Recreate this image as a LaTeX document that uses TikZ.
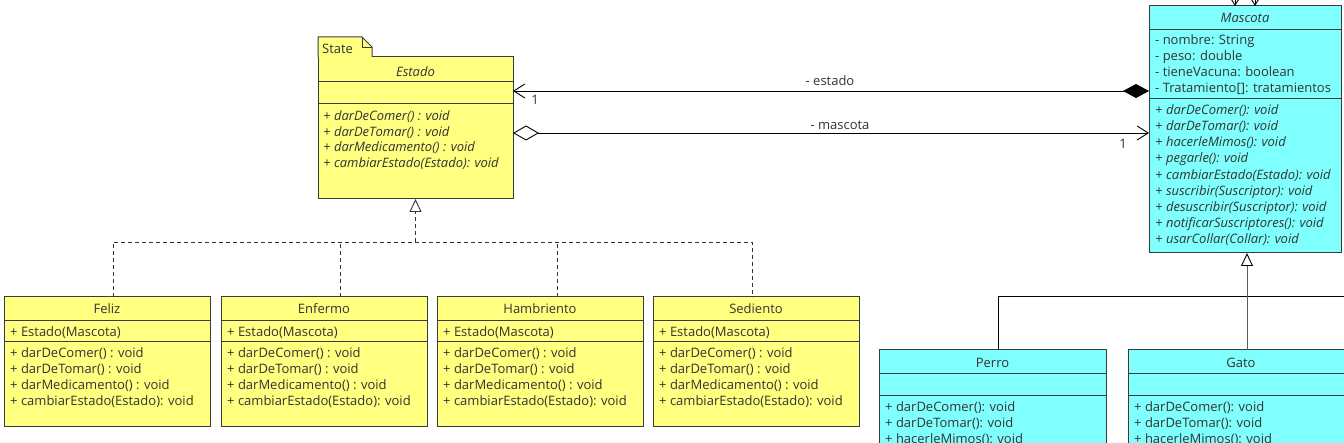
\documentclass[tikz,border=0pt]{standalone}
\usepackage{fontspec}
\setmainfont{Open Sans}
\usetikzlibrary{arrows.meta,calc}
\definecolor{ylw}{HTML}{FFFF80}
\definecolor{cyn}{HTML}{80FFFF}
\definecolor{ink}{HTML}{333333}
\definecolor{edge}{HTML}{3A3A3A}
\tikzset{openbarb/.tip={Straight Barb[length=11pt,width=14pt,line width=0.9pt]}}
\begin{document}
\begin{tikzpicture}[x=1pt,y=-1pt,
  ybox/.style={draw=edge,fill=ylw,line width=1pt,anchor=north west,inner sep=0pt,outer sep=0pt},
  cbox/.style={draw=edge,fill=cyn,line width=1pt,anchor=north west,inner sep=0pt,outer sep=0pt},
  div/.style={draw=edge,line width=1pt},
  txt/.style={anchor=west,inner sep=0pt,text=ink,font=\fontsize{13}{15}\selectfont,text height=9.5pt,text depth=0pt},
  itxt/.style={txt,font=\fontsize{13}{15}\selectfont\itshape},
  ttl/.style={txt,anchor=center},
  ittl/.style={itxt,anchor=center},
  lbl/.style={txt,anchor=center},
  conn/.style={draw=black,line width=0.9pt},
  realz/.style={draw=ink,line width=0.9pt,dash pattern=on 4pt off 3pt},
]
\useasboundingbox (0,0) rectangle (1344,443);

% ---------- Estado (State) ----------
\node[ybox,minimum width=195pt,minimum height=142pt] (estado) at (318,57) {};
\draw[ybox] (318,57) -- (318,37) -- (362,37) -- (372,47) -- (372,57);
\draw[div,line width=0.8pt] (362,37) -- (362,47) -- (372,47);
\node[txt] (estado-tag) at (322,48.5) {State};
\node[ittl] (estado-t) at (415.5,72) {Estado};
\draw[div] (318,82) -- (513,82);
\draw[div] (318,104) -- (513,104);
\node[itxt] (estado-m1) at (323,116) {+ darDeComer() : void};
\node[itxt] (estado-m2) at (323,131.5) {+ darDeTomar() : void};
\node[itxt] (estado-m3) at (323,147) {+ darMedicamento() : void};
\node[itxt] (estado-m4) at (323,162.5) {+ cambiarEstado(Estado): void};

% ---------- concrete states ----------
\newcommand\stclass[3]{%
  \node[ybox,minimum width=206pt,minimum height=129pt] (#1) at (#2,297) {};
  \node[ttl] (#1-t) at ($(#1.north)+(0,12)$) {#3};
  \draw[div] ($(#1.north west)+(0,24)$) -- ($(#1.north east)+(0,24)$);
  \node[txt] (#1-c) at ($(#1.north west)+(6,35)$) {+ Estado(Mascota)};
  \draw[div] ($(#1.north west)+(0,45)$) -- ($(#1.north east)+(0,45)$);
  \node[txt] (#1-m1) at ($(#1.north west)+(6,56)$) {+ darDeComer() : void};
  \node[txt] (#1-m2) at ($(#1.north west)+(6,72)$) {+ darDeTomar() : void};
  \node[txt] (#1-m3) at ($(#1.north west)+(6,88)$) {+ darMedicamento() : void};
  \node[txt] (#1-m4) at ($(#1.north west)+(6,104)$) {+ cambiarEstado(Estado): void};
}
\stclass{feliz}{4}{Feliz}
\stclass{enfermo}{221}{Enfermo}
\stclass{hambriento}{437}{Hambriento}
\stclass{sediento}{653}{Sediento}

% ---------- Mascota ----------
\node[cbox,minimum width=192pt,minimum height=247pt] (mascota) at (1149,6) {};
\node[ittl] (mascota-t) at (1245,18) {Mascota};
\draw[div] (1149,30) -- (1341,30);
\node[txt] (mascota-a1) at (1155,40) {- nombre: String};
\node[txt] (mascota-a2) at (1155,56) {- peso: double};
\node[txt] (mascota-a3) at (1155,72) {- tieneVacuna: boolean};
\node[txt] (mascota-a4) at (1155,88) {- Tratamiento[]: tratamientos};
\draw[div] (1149,99) -- (1341,99);
\node[itxt] (mascota-m1) at (1155,109.5) {+ darDeComer(): void};
\node[itxt] (mascota-m2) at (1155,125.7) {+ darDeTomar(): void};
\node[itxt] (mascota-m3) at (1155,141.9) {+ hacerleMimos(): void};
\node[itxt] (mascota-m4) at (1155,158.1) {+ pegarle(): void};
\node[itxt] (mascota-m5) at (1155,174.3) {+ cambiarEstado(Estado): void};
\node[itxt] (mascota-m6) at (1155,190.5) {+ suscribir(Suscriptor): void};
\node[itxt] (mascota-m7) at (1155,206.7) {+ desuscribir(Suscriptor): void};
\node[itxt] (mascota-m8) at (1155,222.9) {+ notificarSuscriptores(): void};
\node[itxt] (mascota-m9) at (1155,239.1) {+ usarCollar(Collar): void};

% ---------- Perro / Gato ----------
\node[cbox,minimum width=227pt,minimum height=110pt] (perro) at (879,350) {};
\node[ttl] (perro-t) at (992.5,363) {Perro};
\draw[div] (879,374) -- (1106,374);
\draw[div] (879,396) -- (1106,396);
\node[txt] (perro-m1) at (885,406.5) {+ darDeComer(): void};
\node[txt] (perro-m2) at (885,422.5) {+ darDeTomar(): void};
\node[txt] (perro-m3) at (885,438.5) {+ hacerleMimos(): void};

\node[cbox,minimum width=226pt,minimum height=110pt] (gato) at (1128,350) {};
\node[ttl] (gato-t) at (1241,363) {Gato};
\draw[div] (1128,374) -- (1354,374);
\draw[div] (1128,396) -- (1354,396);
\node[txt] (gato-m1) at (1134,406.5) {+ darDeComer(): void};
\node[txt] (gato-m2) at (1134,422.5) {+ darDeTomar(): void};
\node[txt] (gato-m3) at (1134,438.5) {+ hacerleMimos(): void};

% ---------- associations ----------
\coordinate (ea) at ($(estado.north east)+(0,34)$);
\coordinate (eb) at ($(estado.north east)+(0,76)$);
\draw[conn,{openbarb}-{Diamond[length=26pt,width=14pt,fill=black]}] (ea) -- (ea -| mascota.west);
\node[lbl] (lbl-estado) at (830,81) {- estado};
\node[lbl] (mult-estado) at (535,100) {1};
\draw[conn,{Diamond[length=26pt,width=15pt,open]}-{openbarb}] (eb) -- (eb -| mascota.west);
\node[lbl] (lbl-mascota) at (840,125) {- mascota};
\node[lbl] (mult-mascota) at (1123,144) {1};

% ---------- realizations to Estado ----------
\coordinate (jn) at (415.5,242);
\coordinate (fz) at (113,297);
\coordinate (ef) at (340,297);
\coordinate (hb) at (557,297);
\coordinate (sd) at (752,297);
\draw[realz] (fz) |- (sd |- jn) -- (sd);
\draw[realz] (ef) -- (ef |- jn);
\draw[realz] (hb) -- (hb |- jn);
\draw[realz,-{Triangle[open,length=13pt,width=12pt,line width=0.9pt]}] (jn) -- (estado.south);

% ---------- generalizations to Mascota ----------
\coordinate (pr) at (998,350);
\coordinate (hj) at (1344,296);
\draw[conn] (pr) |- (hj);
\coordinate (gt) at (1247,350);
\draw[draw=ink!80,line width=1pt,-{Triangle[open,length=13pt,width=12pt,line width=0.9pt,color=black]}] (gt) -- (gt |- mascota.south);

% ---------- incoming arrows at top of Mascota ----------
\coordinate (t1) at (1235,-12);
\coordinate (t2) at (1255,-12);
\draw[conn,-{Straight Barb[length=8pt,width=10pt]}] (t1) -- (t1 |- mascota.north);
\draw[conn,-{Straight Barb[length=8pt,width=10pt]}] (t2) -- (t2 |- mascota.north);
\end{tikzpicture}
\end{document}
